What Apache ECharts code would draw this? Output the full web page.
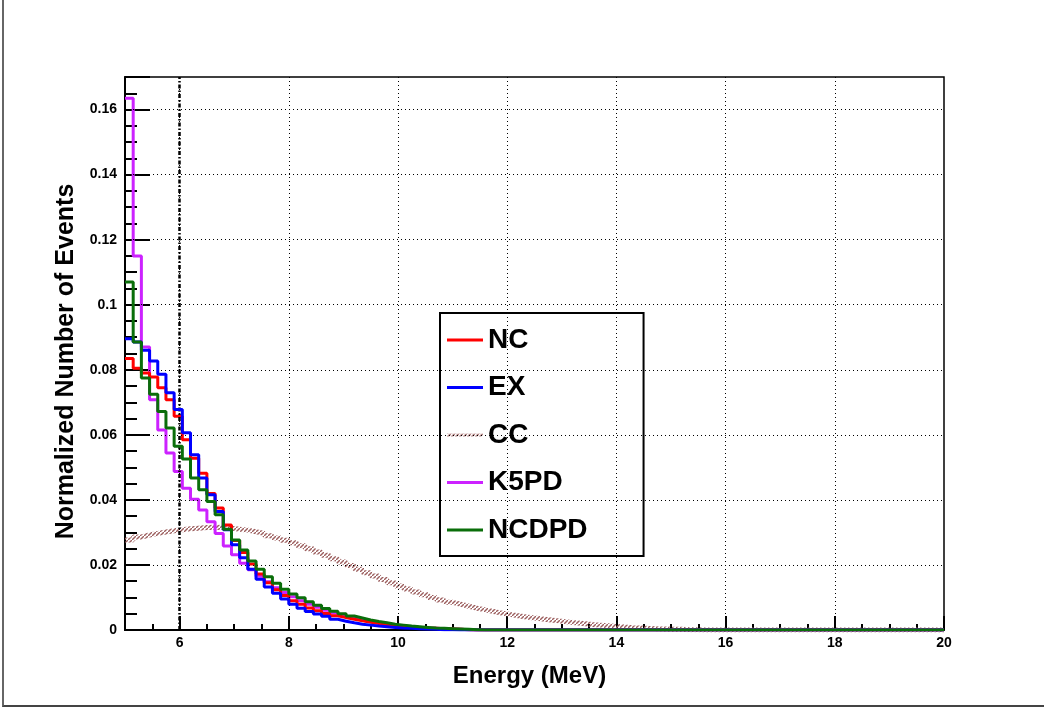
<!DOCTYPE html>
<html>
<head>
<meta charset="utf-8">
<script src="https://cdn.jsdelivr.net/npm/echarts@6/dist/echarts.min.js"></script>
<style>
  html, body { margin: 0; padding: 0; background: #fff; }
  #frame { position: absolute; left: 2px; top: 0; width: 1042px; height: 707px;
           border-left: 2px solid #666; border-bottom: 2px solid #444; box-sizing: border-box; }
  #chart { position: absolute; left: 0; top: 0; width: 1044px; height: 708px; }
</style>
</head>
<body>
<div id="frame"></div>
<div id="chart"></div>
<script>
// histogram binning: 100 bins of 0.15 MeV from 5 to 20 MeV
var binStart = 5, binWidth = 0.15, xMax = 20;
var majorX = [6, 8, 10, 12, 14, 16, 18, 20];
var gridX = [6, 8, 10, 12, 14, 16, 18];
var gridY = [0.02, 0.04, 0.06, 0.08, 0.1, 0.12, 0.14, 0.16];
var cutLine = [6];

var nc = [
  0.0835, 0.0805, 0.0790, 0.0778, 0.0745, 0.0708, 0.0657, 0.0585, 0.0528, 0.0482,
  0.0420, 0.0375, 0.0323, 0.0275, 0.0238, 0.0203, 0.0172, 0.0145, 0.0124, 0.0106,
  0.0090, 0.0079, 0.0068, 0.0059, 0.0051, 0.0044, 0.0038, 0.0033, 0.0028, 0.0024,
  0.0020, 0.0017, 0.0014, 0.0012, 0.0010, 0.0008, 0.0006, 0.0005, 0.0004, 0.0003,
  0.0002, 0.0001, 0, 0, 0, 0, 0, 0, 0, 0,
  0, 0, 0, 0, 0, 0, 0, 0, 0, 0,
  0, 0, 0, 0, 0, 0, 0, 0, 0, 0,
  0, 0, 0, 0, 0, 0, 0, 0, 0, 0,
  0, 0, 0, 0, 0, 0, 0, 0, 0, 0,
  0, 0, 0, 0, 0, 0, 0, 0, 0, 0
];
var ex = [
  0.0895, 0.0885, 0.0860, 0.0827, 0.0786, 0.0729, 0.0678, 0.0606, 0.0539, 0.0467,
  0.0416, 0.0364, 0.0308, 0.0262, 0.0222, 0.0187, 0.0156, 0.0132, 0.0113, 0.0095,
  0.0079, 0.0067, 0.0057, 0.0049, 0.0042, 0.0033, 0.0027, 0.0022, 0.0018, 0.0015,
  0.0012, 0.0010, 0.0008, 0.0006, 0.0005, 0.0004, 0.0003, 0.0002, 0.0001, 0.0001,
  0, 0, 0, 0, 0, 0, 0, 0, 0, 0,
  0, 0, 0, 0, 0, 0, 0, 0, 0, 0,
  0, 0, 0, 0, 0, 0, 0, 0, 0, 0,
  0, 0, 0, 0, 0, 0, 0, 0, 0, 0,
  0, 0, 0, 0, 0, 0, 0, 0, 0, 0,
  0, 0, 0, 0, 0, 0, 0, 0, 0, 0
];
var cc = [
  0.0277, 0.0286, 0.0292, 0.0297, 0.0301, 0.0305, 0.0308, 0.0311, 0.0313, 0.0315,
  0.0316, 0.0315, 0.0313, 0.0310, 0.0307, 0.0302, 0.0297, 0.0290, 0.0283, 0.0276,
  0.0268, 0.0259, 0.0250, 0.0240, 0.0230, 0.0219, 0.0209, 0.0198, 0.0187, 0.0176,
  0.0166, 0.0155, 0.0145, 0.0135, 0.0126, 0.0117, 0.0108, 0.0100, 0.0092, 0.0085,
  0.0079, 0.0073, 0.0067, 0.0062, 0.0057, 0.0052, 0.0048, 0.0044, 0.0040, 0.0037,
  0.0034, 0.0031, 0.0028, 0.0025, 0.0022, 0.0020, 0.0017, 0.0015, 0.0013, 0.0011,
  0.0009, 0.0007, 0.0006, 0.0005, 0.0004, 0.0003, 0.0002, 0.0002, 0.0001, 0.0001,
  0, 0, 0, 0, 0, 0, 0, 0, 0, 0,
  0, 0, 0, 0, 0, 0, 0, 0, 0, 0,
  0, 0, 0, 0, 0, 0, 0, 0, 0, 0
];
var k5pd = [
  0.1635, 0.1150, 0.0870, 0.0708, 0.0615, 0.0544, 0.0487, 0.0436, 0.0402, 0.0369,
  0.0333, 0.0297, 0.0258, 0.0231, 0.0205, 0.0185, 0.0165, 0.0148, 0.0130, 0.0115,
  0.0102, 0.0090, 0.0079, 0.0070, 0.0061, 0.0052, 0.0045, 0.0038, 0.0032, 0.0027,
  0.0022, 0.0018, 0.0015, 0.0012, 0.0010, 0.0008, 0.0006, 0.0005, 0.0004, 0.0003,
  0.0002, 0.0001, 0, 0, 0, 0, 0, 0, 0, 0,
  0, 0, 0, 0, 0, 0, 0, 0, 0, 0,
  0, 0, 0, 0, 0, 0, 0, 0, 0, 0,
  0, 0, 0, 0, 0, 0, 0, 0, 0, 0,
  0, 0, 0, 0, 0, 0, 0, 0, 0, 0,
  0, 0, 0, 0, 0, 0, 0, 0, 0, 0
];
var ncdpd = [
  0.1070, 0.0885, 0.0775, 0.0725, 0.0672, 0.0621, 0.0565, 0.0526, 0.0467, 0.0431,
  0.0395, 0.0354, 0.0310, 0.0277, 0.0246, 0.0212, 0.0187, 0.0164, 0.0144, 0.0125,
  0.0111, 0.0099, 0.0087, 0.0076, 0.0066, 0.0058, 0.0050, 0.0043, 0.0037, 0.0031,
  0.0026, 0.0022, 0.0018, 0.0015, 0.0012, 0.0010, 0.0008, 0.0006, 0.0005, 0.0004,
  0.0003, 0.0002, 0.0001, 0, 0, 0, 0, 0, 0, 0,
  0, 0, 0, 0, 0, 0, 0, 0, 0, 0,
  0, 0, 0, 0, 0, 0, 0, 0, 0, 0,
  0, 0, 0, 0, 0, 0, 0, 0, 0, 0,
  0, 0, 0, 0, 0, 0, 0, 0, 0, 0,
  0, 0, 0, 0, 0, 0, 0, 0, 0, 0
];

// bin contents -> step points at bin low edges (+ closing point at xMax)
function steps(vals) {
  var pts = vals.map(function (v, i) { return [binStart + i * binWidth, v]; });
  pts.push([xMax, vals[vals.length - 1]]);
  return pts;
}

// little diagonal hatch used for the CC curve
function hatch(color) {
  var c = document.createElement('canvas');
  c.width = 4; c.height = 4;
  var g = c.getContext('2d');
  g.strokeStyle = color; g.lineWidth = 1.4;
  g.beginPath(); g.moveTo(0, 4); g.lineTo(4, 0); g.stroke();
  return { image: c, repeat: 'repeat' };
}

var font = 'Liberation Sans, Arial, Helvetica, sans-serif';
var ccColor = hatch('#9c5f5f');

function histo(name, vals, color, z) {
  return {
    name: name, type: 'line', step: 'end', data: steps(vals),
    xAxisIndex: 0, yAxisIndex: 0, showSymbol: false, symbol: 'none',
    z: z, silent: true,
    lineStyle: { color: color, width: 3 },
    itemStyle: { color: color }
  };
}

var chart = echarts.init(document.getElementById('chart'), null, { renderer: 'canvas' });
chart.setOption({
  animation: false,
  backgroundColor: 'transparent',
  grid: { left: 125, right: 100, top: 77, bottom: 78, show: true,
          borderColor: '#000', borderWidth: 1.5, backgroundColor: 'transparent' },
  legend: {
    data: ['NC', 'EX', 'CC', 'K5PD', 'NCDPD'],
    orient: 'vertical', left: 440, top: 313,
    padding: [13, 56, 12, 7], itemGap: 19.5,
    icon: 'rect', itemWidth: 36, itemHeight: 3,
    backgroundColor: '#fff', borderColor: '#000', borderWidth: 2,
    textStyle: { fontFamily: font, fontWeight: 'bold', fontSize: 28, color: '#000', lineHeight: 28 },
    selectedMode: false
  },
  xAxis: [{
    type: 'value', min: 5, max: 20,
    name: 'Energy (MeV)', nameLocation: 'middle', nameGap: 34,
    nameTextStyle: { fontFamily: font, fontWeight: 'bold', fontSize: 24, color: '#000', padding: [0, 10, 0, 0] },
    axisLine: { lineStyle: { color: '#000', width: 2 } },
    axisTick: { inside: true, length: 14, customValues: majorX, lineStyle: { color: '#000', width: 2 } },
    axisLabel: { customValues: majorX, margin: 6, fontFamily: font, fontWeight: 'bold', fontSize: 14, color: '#000' },
    splitLine: { show: false }
  }, {
    type: 'value', min: 5, max: 20, interval: 0.5, position: 'bottom',
    axisLine: { show: false },
    axisTick: { inside: true, length: 6, lineStyle: { color: '#000', width: 2 } },
    axisLabel: { show: false },
    splitLine: { show: false }
  }],
  yAxis: {
    type: 'value', min: 0, max: 0.17, interval: 0.02,
    name: 'Normalized Number of Events', nameLocation: 'middle', nameGap: 43,
    nameTextStyle: { fontFamily: font, fontWeight: 'bold', fontSize: 25, color: '#000', padding: [0, 16, 0, 0] },
    axisLine: { lineStyle: { color: '#000', width: 2 } },
    axisTick: { inside: true, length: 25, lineStyle: { color: '#000', width: 2 } },
    minorTick: { show: true, splitNumber: 4, length: 12, lineStyle: { color: '#000', width: 2 } },
    axisLabel: { showMaxLabel: false, margin: 8, fontFamily: font, fontWeight: 'bold', fontSize: 14, color: '#000' },
    splitLine: { show: false }
  },
  series: [
    {
      // carrier for the dotted grid and the 6 MeV threshold line
      type: 'line', data: [[5, 0], [20, 0]], symbol: 'none', silent: true, z: 1,
      lineStyle: { opacity: 0 },
      markLine: {
        silent: true, symbol: 'none', label: { show: false }, animation: false,
        lineStyle: { color: '#000', width: 1, type: [1, 3] },
        data: gridX.map(function (x) { return { xAxis: x }; })
          .concat(gridY.map(function (y) { return { yAxis: y }; }))
          .concat(cutLine.map(function (x) {
            return { xAxis: x, lineStyle: { color: '#000', width: 2.5, type: [4, 2, 1.5, 2] } };
          }))
      }
    },
    {
      name: 'CC', type: 'line', step: 'end', data: steps(cc), showSymbol: false, symbol: 'none',
      z: 2, silent: true,
      lineStyle: { color: ccColor, width: 5 },
      itemStyle: { color: ccColor }
    },
    histo('K5PD', k5pd, '#cc22ff', 3),
    histo('NC', nc, '#ff0000', 4),
    histo('EX', ex, '#0000ff', 5),
    histo('NCDPD', ncdpd, '#0a6e0a', 6)
  ]
});
</script>
</body>
</html>
